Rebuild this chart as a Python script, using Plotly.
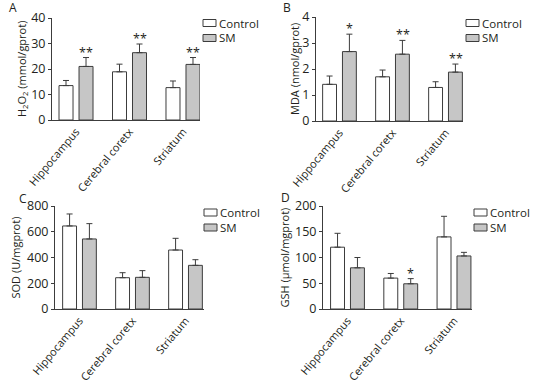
import plotly.graph_objects as go

# ---------------- data ----------------
categories = ["Hippocampus", "Cerebral coretx", "Striatum"]
series_names = ["Control", "SM"]

h2o2_control = [13.5, 18.9, 12.7]
h2o2_control_err = [2.0, 3.0, 2.6]
h2o2_sm = [21.0, 26.4, 21.8]
h2o2_sm_err = [3.5, 3.4, 2.7]
h2o2_sm_sig = ["**", "**", "**"]

mda_control = [1.41, 1.70, 1.29]
mda_control_err = [0.32, 0.26, 0.22]
mda_sm = [2.67, 2.57, 1.88]
mda_sm_err = [0.67, 0.53, 0.31]
mda_sm_sig = ["*", "**", "**"]

sod_control = [645, 243, 458]
sod_control_err = [93, 39, 91]
sod_sm = [544, 246, 339]
sod_sm_err = [119, 52, 44]
sod_sm_sig = ["", "", ""]

gsh_control = [120, 60, 140]
gsh_control_err = [27, 9, 40]
gsh_sm = [80, 49, 103]
gsh_sm_err = [20, 10, 7]
gsh_sm_sig = ["", "*", ""]

panel_letters = ["A", "B", "C", "D"]
y_titles = ["H<sub>2</sub>O<sub>2</sub> (mmol/gprot)", "MDA (nmol/gprot)",
            "SOD (U/mgprot)", "GSH (μmol/mgprot)"]
y_maxes = [40, 4, 800, 200]
y_dticks = [10, 1, 200, 50]

# ---------------- layout helpers ----------------
W, H = 555, 387
FONT = "Open Sans"
TXT = "#231f20"
AX = "#3c3c3c"
GRAY = "#c6c6c6"


def px(x):
    return x / W


def py(y):
    return 1 - y / H


panels = [
    dict(ctrl=h2o2_control, ce=h2o2_control_err, sm=h2o2_sm, se=h2o2_sm_err, sig=h2o2_sm_sig,
         xdom=(52, 200), ydom=(18, 120), xr=(-0.449, 2.318),
         ytx=22, lab=(13, 8), leg=(203, 23)),
    dict(ctrl=mda_control, ce=mda_control_err, sm=mda_sm, se=mda_sm_err, sig=mda_sm_sig,
         xdom=(316, 463), ydom=(17, 121), xr=(-0.443, 2.330),
         ytx=294, lab=(287, 8), leg=(466, 23)),
    dict(ctrl=sod_control, ce=sod_control_err, sm=sod_sm, se=sod_sm_err, sig=sod_sm_sig,
         xdom=(55, 204), ydom=(206, 309), xr=(-0.462, 2.349),
         ytx=15, lab=(23, 198), leg=(204, 212.5)),
    dict(ctrl=gsh_control, ce=gsh_control_err, sm=gsh_sm, se=gsh_sm_err, sig=gsh_sm_sig,
         xdom=(323, 472), ydom=(206, 309), xr=(-0.46, 2.338),
         ytx=284, lab=(285, 197), leg=(474, 212.5)),
]

fig = go.Figure()
layout = dict(
    template="none",
    width=W, height=H, margin=dict(l=0, r=0, t=0, b=0, autoexpand=False),
    paper_bgcolor="white", plot_bgcolor="white",
    showlegend=False, barmode="group", bargap=0.252, bargroupgap=0.3,
    font=dict(family=FONT, size=12, color=TXT),
)
annotations = []
shapes = []

for i, p in enumerate(panels):
    n = "" if i == 0 else str(i + 1)
    xa, ya = "x" + n, "y" + n
    for name, vals, errs, fill in [("Control", p["ctrl"], p["ce"], "white"),
                                   ("SM", p["sm"], p["se"], GRAY)]:
        fig.add_trace(go.Bar(
            x=categories, y=vals, name=name, xaxis=xa, yaxis=ya,
            marker=dict(color=fill, line=dict(color=AX, width=1)),
            error_y=dict(type="data", array=errs, arrayminus=[0] * len(errs),
                         symmetric=False, color=AX, thickness=1, width=3),
            offsetgroup=name, hoverinfo="skip",
        ))
    layout["xaxis" + n] = dict(
        domain=[px(p["xdom"][0]), px(p["xdom"][1])], anchor=ya,
        range=list(p["xr"]), type="category", automargin=False,
        showline=True, linecolor=AX, linewidth=1, ticks="",
        tickangle=-50, showgrid=False, zeroline=False,
        tickfont=dict(family=FONT, size=11, color=TXT),
    )
    layout["yaxis" + n] = dict(
        domain=[py(p["ydom"][1]), py(p["ydom"][0])], anchor=xa,
        range=[0, y_maxes[i]], dtick=y_dticks[i], tick0=0, automargin=False,
        showline=True, linecolor=AX, linewidth=1, ticks="outside",
        ticklen=3, tickcolor=AX, showgrid=False, zeroline=False,
        tickfont=dict(family=FONT, size=12.5, color=TXT),
    )
    # y title
    annotations.append(dict(
        text=y_titles[i], textangle=-90, xref="paper", yref="paper",
        x=px(p["ytx"]), y=(py(p["ydom"][0]) + py(p["ydom"][1])) / 2,
        xanchor="center", yanchor="middle", showarrow=False,
        font=dict(family=FONT, size=11, color=TXT),
    ))
    # panel letter
    annotations.append(dict(
        text=panel_letters[i], xref="paper", yref="paper",
        x=px(p["lab"][0]), y=py(p["lab"][1]), xanchor="center", yanchor="middle",
        showarrow=False, font=dict(family=FONT, size=12, color=TXT),
    ))
    # significance marks above SM bars
    for c, v, e, s in zip(categories, p["sm"], p["se"], p["sig"]):
        if s:
            annotations.append(dict(
                text=s, x=c, y=v + e, xref=xa, yref=ya, xshift=10, yshift=-5,
                xanchor="center", yanchor="bottom", showarrow=False,
                font=dict(family=FONT, size=12.5, color=TXT),
            ))
    # legend
    lx, ly = p["leg"]
    for k, (name, fill) in enumerate([("Control", "white"), ("SM", GRAY)]):
        cy = ly + k * 15
        shapes.append(dict(
            type="rect", xref="paper", yref="paper",
            x0=px(lx), x1=px(lx + 13), y0=py(cy + 3.5), y1=py(cy - 3.5),
            fillcolor=fill, line=dict(color=AX, width=1),
        ))
        annotations.append(dict(
            text=name, xref="paper", yref="paper", x=px(lx + 14), y=py(cy),
            xanchor="left", yanchor="middle", showarrow=False,
            font=dict(family=FONT, size=11.5, color=TXT),
        ))

layout["annotations"] = annotations
layout["shapes"] = shapes
fig.update_layout(**layout)
fig.write_html("out.html", config={"displayModeBar": False, "staticPlot": True},
               post_script="document.body.style.margin='0';document.body.style.overflow='hidden';")
